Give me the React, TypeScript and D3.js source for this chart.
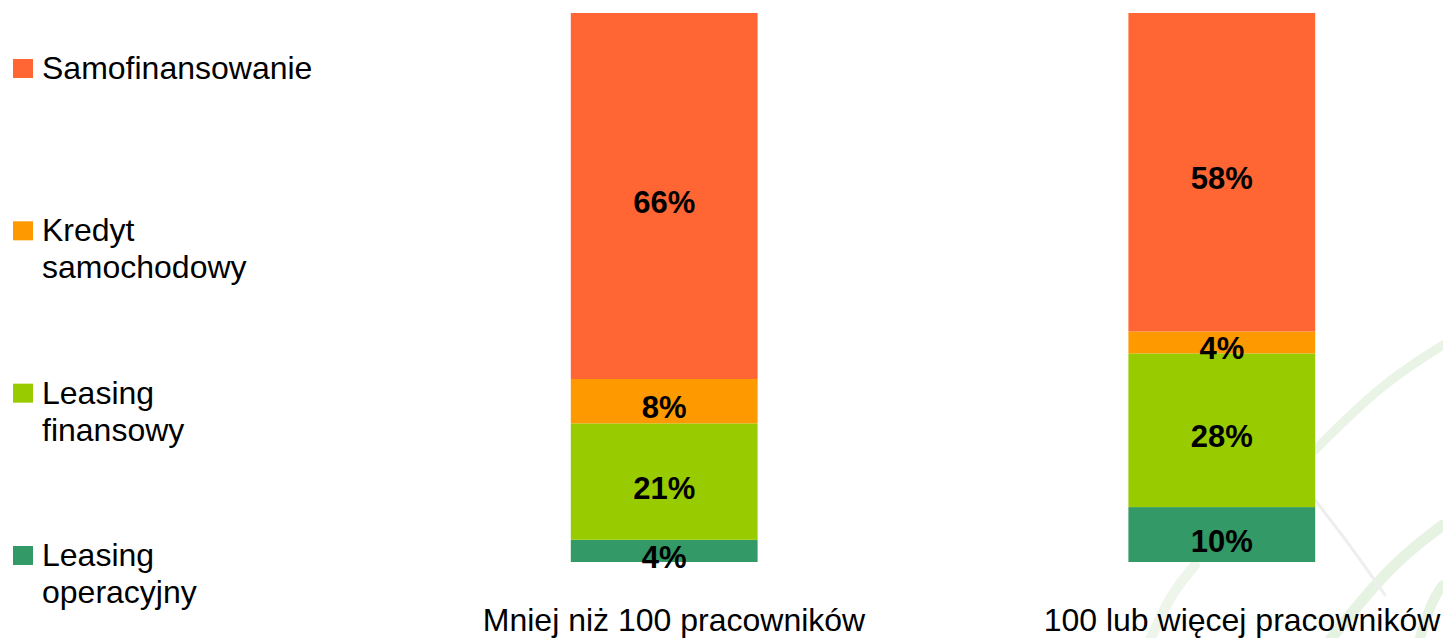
import React from 'react';
import * as d3 from 'd3';

const categories = ['Mniej niż 100 pracowników', '100 lub więcej pracowników'];
const seriesNames = ['Leasing operacyjny', 'Leasing finansowy', 'Kredyt samochodowy', 'Samofinansowanie'];
const leasingOperacyjny = [4, 10];
const leasingFinansowy = [21, 28];
const kredytSamochodowy = [8, 4];
const samofinansowanie = [66, 58];
const colors = ['#339966', '#99CC00', '#FF9900', '#FF6633'];
// legend order, top to bottom, with line breaks as in the slide
const legendLines = [['Samofinansowanie'], ['Kredyt', 'samochodowy'], ['Leasing', 'finansowy'], ['Leasing', 'operacyjny']];
const legendColors = ['#FF6633', '#FF9900', '#99CC00', '#339966'];

const W = 1443;
const H = 638;
const FONT = 'Arial, "Liberation Sans", sans-serif';

export default function App() {
  const rows = categories.map((c, i) => ({
    category: c,
    [seriesNames[0]]: leasingOperacyjny[i],
    [seriesNames[1]]: leasingFinansowy[i],
    [seriesNames[2]]: kredytSamochodowy[i],
    [seriesNames[3]]: samofinansowanie[i],
  }));

  const stack = d3.stack<any>().keys(seriesNames).offset(d3.stackOffsetExpand);
  const layers = stack(rows);

  const x = d3.scaleBand().domain(categories).range([200, 1686]).paddingInner(0.665).paddingOuter(0.665);
  const y = d3.scaleLinear().domain([0, 1]).range([562, 13]);
  const labelX = d3.scalePoint().domain(categories).range([674, 1242]);
  const legendY = d3.scalePoint().domain(legendLines.map((l) => l.join(' '))).range([79, 566]);

  const swoosh = d3.line<[number, number]>().curve(d3.curveBasis);

  return (
    <svg width={W} height={H} style={{ position: 'absolute', left: 0, top: 0, background: '#fff' }}>
      {/* faint decorative background curves */}
      <g fill="none" strokeLinecap="round">
        <path d={swoosh([[1315, 450], [1380, 385], [1443, 345]]) || ''} stroke="#e9f4e6" strokeWidth={9} />
        <path d={swoosh([[1330, 640], [1390, 565], [1443, 525]]) || ''} stroke="#e6f3e2" strokeWidth={11} />
        <path d={swoosh([[1150, 640], [1170, 595], [1195, 565]]) || ''} stroke="#eef6ec" strokeWidth={10} />
        <path d={swoosh([[1315, 500], [1350, 545], [1385, 595]]) || ''} stroke="#eeeeee" strokeWidth={3} />
        <path d={swoosh([[1420, 638], [1432, 600], [1443, 585]]) || ''} stroke="#e6f3e2" strokeWidth={10} />
      </g>

      {layers.map((layer, li) => (
        <g key={layer.key} fill={colors[li]}>
          {layer.map((d, i) => (
            <rect
              key={i}
              x={x(categories[i])}
              y={y(d[1])}
              width={x.bandwidth()}
              height={y(d[0]) - y(d[1])}
            />
          ))}
        </g>
      ))}

      {layers.map((layer, li) => (
        <g key={'l' + layer.key} fontFamily={FONT} fontWeight="bold" fontSize={31} textAnchor="middle" fill="#000">
          {layer.map((d, i) => (
            <text key={i} x={(x(categories[i]) || 0) + x.bandwidth() / 2} y={(y(d[0]) + y(d[1])) / 2 + 17}>
              {(d.data as any)[layer.key]}%
            </text>
          ))}
        </g>
      ))}

      <g fontFamily={FONT} fontSize={32} textAnchor="middle" fill="#000">
        {categories.map((c) => (
          <text key={c} x={labelX(c)} y={631}>{c}</text>
        ))}
      </g>

      <g fontFamily={FONT} fontSize={32} fill="#000">
        {legendLines.map((lines, i) => {
          const by = legendY(lines.join(' ')) || 0;
          return (
            <g key={i}>
              <rect x={13} y={by - 20} width={20} height={19} fill={legendColors[i]} />
              {lines.map((t, j) => (
                <text key={j} x={42} y={by + j * 37}>{t}</text>
              ))}
            </g>
          );
        })}
      </g>
    </svg>
  );
}
